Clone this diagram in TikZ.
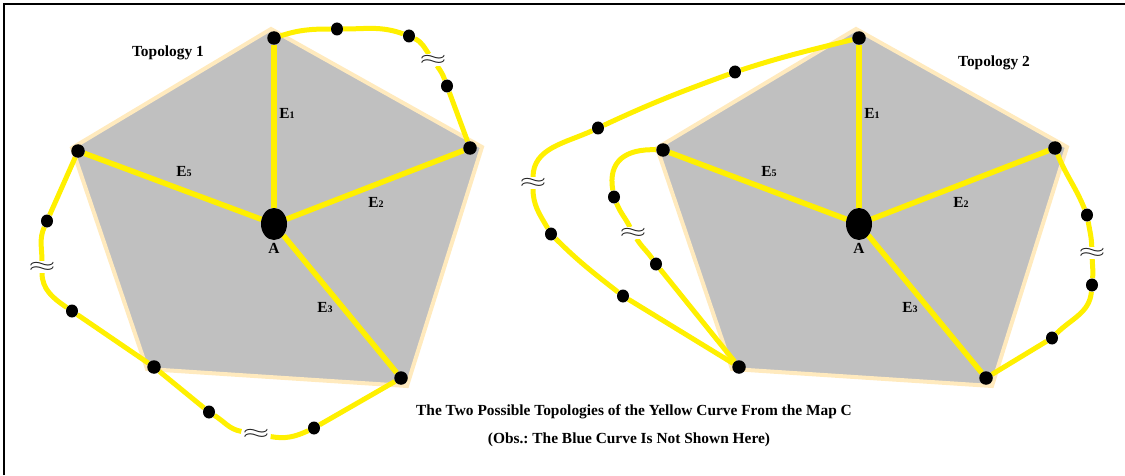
\documentclass[tikz,border=0pt]{standalone}
\usepackage{fontspec}
\setmainfont{Liberation Serif}
\usetikzlibrary{shapes.geometric,backgrounds}
\definecolor{curveyel}{RGB}{255,240,0}
\definecolor{facegray}{RGB}{192,192,192}
\definecolor{rimbeige}{RGB}{255,234,190}
\tikzset{
  vtx/.style={circle,fill=black,inner sep=0pt,minimum size=13.5pt},
  pt/.style={ellipse,fill=black,inner sep=0pt,minimum width=12pt,minimum height=13pt},
  hub/.style={ellipse,fill=black,inner sep=0pt,minimum width=26pt,minimum height=32pt},
  face/.style={fill=facegray,draw=rimbeige,line width=4pt},
  spoke/.style={draw=curveyel,line width=5.5pt},
  yel/.style={draw=curveyel,line width=5pt},
  brk/.style={fill=white,inner sep=1pt,text=gray!25!black,font=\fontsize{18}{18}\selectfont},
  lbl/.style={font=\fontsize{15.4}{15.4}\selectfont\bfseries\frenchspacing,inner sep=0pt},
  frame/.style={draw=black,line width=1.3pt},
}
\newcommand{\edgelbl}[1]{E{\fontsize{10}{10}\selectfont #1}}
\newcommand{\brkmark}{\scalebox{2}[1.1]{$\approx$}}

\begin{document}
\begin{tikzpicture}[x=1pt,y=1pt]
  \useasboundingbox (0,0) rectangle (1125,475);
  \draw[frame] (4,0) -- (4,471) -- (1125,471);

  % topology 1
  \node[hub] (A1) at (274,251) {};
  \node[vtx] (T1) at (274,437) {};
  \node[vtx] (R1) at (470,327) {};
  \node[vtx] (BR1) at (401,97) {};
  \node[vtx] (BL1) at (154,108) {};
  \node[vtx] (L1) at (78,324) {};
  \node[pt] (a1) at (337,446) {};
  \node[pt] (a2) at (409,439) {};
  \node[brk] (w1) at (433,415) {\brkmark};
  \node[pt] (a3) at (447,389) {};
  \node[pt] (b1) at (47,254) {};
  \node[brk] (w2) at (42,208) {\brkmark};
  \node[pt] (b2) at (72,164) {};
  \node[pt] (b3) at (209,63) {};
  \node[brk] (w3) at (256,41) {\brkmark};
  \node[pt] (b4) at (314,47) {};
  \node[lbl] (topo1) at (168,422) {Topology 1};
  \node[lbl] (e11) at (287,362) {\edgelbl{1}};
  \node[lbl] (e15) at (184,303) {\edgelbl{5}};
  \node[lbl] (e12) at (376,273) {\edgelbl{2}};
  \node[lbl] (e13) at (325,167) {\edgelbl{3}};
  \node[lbl] (lA1) at (274,227) {A};

  % topology 2
  \node[hub] (A2) at (859,251) {};
  \node[vtx] (T2) at (859,437) {};
  \node[vtx] (R2) at (1055,327) {};
  \node[vtx] (BR2) at (986,97) {};
  \node[vtx] (BL2) at (739,108) {};
  \node[vtx] (L2) at (663,325) {};
  \node[pt] (c1) at (735,403) {};
  \node[pt] (c2) at (598,347) {};
  \node[brk] (w4) at (533,292) {\brkmark};
  \node[pt] (c3) at (551,241) {};
  \node[pt] (c4) at (623,179) {};
  \node[pt] (d1) at (614,278) {};
  \node[brk] (w5) at (633,242) {\brkmark};
  \node[pt] (d2) at (656,211) {};
  \node[pt] (e1) at (1087,260) {};
  \node[brk] (w6) at (1092,222) {\brkmark};
  \node[pt] (e2) at (1092,190) {};
  \node[pt] (e3) at (1052,137) {};
  \node[lbl] (topo2) at (994,412) {Topology 2};
  \node[lbl] (e21) at (872,362) {\edgelbl{1}};
  \node[lbl] (e25) at (769,303) {\edgelbl{5}};
  \node[lbl] (e22) at (961,273) {\edgelbl{2}};
  \node[lbl] (e23) at (910,167) {\edgelbl{3}};
  \node[lbl] (lA2) at (859,227) {A};

  \node[lbl] (cap1) at (634,63) {The Two Possible Topologies of the Yellow Curve From the Map C};
  \node[lbl] (cap2) at (629,35) {(Obs.: The Blue Curve Is Not Shown Here)};

  \begin{scope}[on background layer]
    \filldraw[face] (271,446) -- (482,328) -- (407,89) -- (147,106) -- (72,327) -- cycle;
    \filldraw[face] (856,446) -- (1067,328) -- (992,89) -- (732,106) -- (657,327) -- cycle;
    \draw[spoke] (A1) -- (T1);
    \draw[spoke] (A1) -- (R1);
    \draw[spoke] (A1) -- (BR1);
    \draw[spoke] (A1) -- (L1);
    \draw[spoke] (A2) -- (T2);
    \draw[spoke] (A2) -- (R2);
    \draw[spoke] (A2) -- (BR2);
    \draw[spoke] (A2) -- (L2);
    \draw[yel] (T1) to[out=18,in=180] (a1) to[out=0,in=160] (a2)
      to[out=-25,in=125] (w1) to[out=-55,in=110] (a3) -- (R1);
    \draw[yel] (L1) -- (b1) to[out=246,in=90] (w2) to[out=-90,in=146] (b2)
      -- (BL1) -- (b3) to[out=-32,in=170] (w3) to[out=-10,in=205] (b4) -- (BR1);
    \draw[yel] (T2) to[out=194,in=18] (c1) to[out=200,in=25] (c2)
      to[out=205,in=90] (w4) to[out=-90,in=120] (c3) to[out=-45,in=142] (c4) -- (BL2);
    \draw[yel] (L2) to[out=178,in=100,looseness=1.3] (d1) to[out=-68,in=117] (w5)
      to[out=-58,in=125] (d2) -- (BL2);
    \draw[yel] (R2) to[out=-68,in=112] (e1) to[out=-80,in=92] (w6)
      to[out=-88,in=85] (e2) to[out=-95,in=45] (e3) -- (BR2);
  \end{scope}
\end{tikzpicture}
\end{document}
